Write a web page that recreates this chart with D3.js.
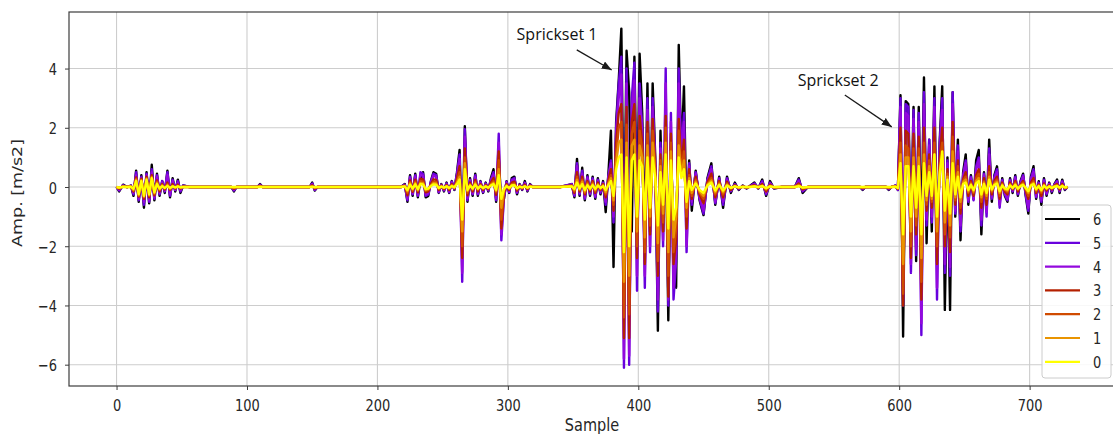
<!DOCTYPE html>
<html><head><meta charset="utf-8">
<script src="https://cdn.jsdelivr.net/npm/d3@7"></script>
<style>
body{margin:0;background:#fff;}
svg{display:block;}
</style></head><body>
<svg id="c" width="1113" height="434"></svg>
<script>
// ---------------- DATA ----------------
const samples = [
0,2,5,8,
11,13,15,17,19,21,23,25,27,29,31,33,35,37,39,41,43,45,47,49,51,
56,70,88,90,92,100,108,110,112,130,148,150,152,154,170,200,218,
221,223,225,227,229,231,233,235,237,239,241,243,245,247,249,251,253,255,257,259,261,263,265,267,269,271,273,275,277,279,281,283,285,287,289,291,293,295,297,299,301,303,305,307,309,311,313,315,317,319,
325,340,
349,351,353,355,357,359,361,363,365,367,369,371,373,375,377,379,381,383,385,387,389,391,393,395,397,399,401,403,405,407,409,411,413,415,417,419,421,423,425,427,429,431,433,435,437,439,441,
444,447,450,453,456,459,462,465,468,471,474,477,480,483,486,489,492,495,498,501,504,
510,520,523,526,530,545,560,570,572,574,590,592,594,
597,599,601,603,605,607,609,611,613,615,617,619,621,623,625,627,629,631,633,635,637,639,641,643,645,647,649,651,653,655,657,659,661,663,665,667,669,671,673,675,677,679,681,683,685,687,689,691,693,695,697,699,701,703,705,707,709,711,713,715,717,719,721,723,725,727,
729];

const series6 = [
0,-0.15,0.08,0,
0.05,-0.3,0.55,-0.5,0.4,-0.7,0.5,-0.55,0.75,-0.45,0.45,-0.3,0.2,-0.2,0.55,-0.35,0.3,-0.15,0.25,-0.2,0.05,
0,0,0,-0.15,0,0,0,0.1,0,0,0,0.15,-0.12,0,0,0,0,
0.1,-0.5,0.4,-0.3,0.45,-0.35,0.25,0.5,-0.35,-0.3,0.2,0.5,0.45,-0.2,0.1,-0.15,0.15,-0.2,0.2,-0.1,0.5,1.25,-2.0,2.05,-0.5,0.3,-0.3,0.45,-0.3,0.2,-0.2,0.15,-0.15,0.3,0.6,-0.5,1.0,-0.6,-0.4,0.2,-0.2,0.3,0.35,-0.25,0.1,-0.1,0.2,-0.15,0.1,0,
0,0,
0.1,-0.35,0.95,-0.3,0.65,-0.45,0.4,-0.3,0.35,-0.4,0.3,-0.25,0.2,-0.85,0.4,1.9,-2.7,2.2,3.6,5.35,-2.0,4.6,3.2,-1.5,4.4,-1.0,4.5,2.5,-2.0,3.5,-1.5,3.5,1.0,-4.85,1.9,-1.5,2.0,-4.5,1.5,-2.0,-3.4,4.8,1.0,3.4,-1.2,0.9,-0.8,
0.55,-0.45,-0.95,0.3,0.8,-0.6,0.35,-0.7,0.35,-0.2,0.15,-0.1,0.05,-0.05,0.05,0.15,-0.05,0.25,-0.3,0.2,-0.05,
0,0,0.3,-0.2,0,0,0,0,-0.1,0,0,-0.1,0,
0.05,-0.1,3.1,-5.05,2.9,2.8,-1.5,2.7,-2.5,2.7,-1.9,3.7,-1.9,1.6,-1.5,3.4,-2.5,1.5,3.4,-4.15,1.0,-4.15,3.2,-1.0,1.6,-1.8,0.5,1.1,-0.6,0.4,-0.4,0.9,1.25,-1.6,0.5,-0.8,1.6,-0.5,0.4,0.7,-0.5,0.3,-0.3,-0.5,0.3,-0.2,0.4,-0.3,0.2,0.45,-0.3,-0.9,0.35,0.7,-0.4,0.2,-0.6,0.3,-0.3,0.15,-0.2,0.1,0.25,-0.2,0.25,-0.1,
0];

const series5 = [
0,-0.12,0.06,0,
0.05,-0.25,0.5,-0.45,0.35,-0.6,0.45,-0.5,0.6,-0.4,0.4,-0.25,0.2,-0.15,0.5,-0.3,0.25,-0.1,0.2,-0.15,0.05,
0,0,0,-0.12,0,0,0,0.08,0,0,0,0.12,-0.1,0,0,0,0,
0.08,-0.45,0.35,-0.25,0.4,-0.3,0.5,0.45,-0.3,-0.25,0.18,0.45,0.4,-0.18,0.08,-0.12,0.12,-0.18,0.18,-0.08,0.45,1.1,-3.2,1.95,-0.45,0.25,-0.25,0.4,-0.25,0.18,-0.18,0.12,-0.12,0.25,0.5,-0.45,1.8,-1.8,-0.35,0.18,-0.18,0.25,0.3,-0.2,0.08,-0.08,0.15,-0.12,0.08,0,
0,0,
0.1,-0.3,0.8,-0.25,0.55,-0.4,0.35,-0.25,0.3,-0.35,0.25,-0.2,0.15,-0.6,0.35,0.9,-1.2,2.0,3.5,4.4,-6.1,4.0,-6.0,3.0,4.2,-3.5,3.5,2.0,-3.4,3.0,-2.2,3.0,0.8,-4.2,1.5,-2.0,4.0,-4.0,2.5,-3.8,-2.5,4.0,1.0,2.5,-2.2,0.8,-0.6,
0.5,-0.4,-0.9,0.25,0.7,-0.55,0.3,-0.6,0.3,-0.15,0.1,-0.08,0.04,-0.04,0.04,0.12,-0.04,0.2,-0.25,0.15,-0.04,
0,0,0.25,-0.15,0,0,0,0,-0.08,0,0,-0.08,0,
0.05,-0.1,3.0,-4.0,2.8,2.7,-2.9,2.6,-2.3,2.5,-5.0,3.2,-1.3,1.6,-1.2,3.0,-3.8,1.4,3.0,-2.9,0.9,-3.0,3.2,-0.9,1.4,-1.5,0.4,0.9,-0.5,0.35,-0.45,0.7,1.0,-1.3,0.45,-1.0,1.3,-0.4,0.35,0.6,-0.7,0.25,-0.25,-0.45,0.25,-0.15,0.35,-0.25,0.15,0.4,-0.25,-0.8,0.3,0.6,-0.35,0.15,-0.5,0.25,-0.25,0.12,-0.15,0.08,0.2,-0.15,0.2,-0.08,
0];

const series4 = [
0,-0.1,0.05,0,
0.03,-0.2,0.4,-0.4,0.3,-0.5,0.4,-0.45,0.5,-0.35,0.35,-0.2,0.15,-0.12,0.4,-0.25,0.2,-0.1,0.15,-0.1,0.03,
0,0,0,-0.1,0,0,0,0.06,0,0,0,0.1,-0.08,0,0,0,0,
0.07,-0.4,0.3,-0.22,0.35,-0.26,0.42,0.38,-0.26,-0.22,0.15,0.38,0.34,-0.15,0.07,-0.1,0.1,-0.15,0.15,-0.07,0.38,0.95,-2.9,1.7,-0.38,0.22,-0.22,0.34,-0.22,0.15,-0.15,0.1,-0.1,0.22,0.42,-0.38,1.5,-1.6,-0.3,0.15,-0.15,0.22,0.26,-0.17,0.07,-0.07,0.13,-0.1,0.07,0,
0,0,
0.08,-0.25,0.7,-0.2,0.45,-0.35,0.3,-0.2,0.25,-0.3,0.2,-0.15,0.12,-0.5,0.3,0.8,-1.0,1.8,3.0,3.8,-5.8,3.5,-5.7,2.6,3.6,-3.0,3.0,1.8,-3.0,2.6,-2.0,2.7,0.7,-3.8,1.3,-1.8,3.5,-3.8,2.2,-3.4,-2.2,3.5,0.9,2.2,-2.0,0.7,-0.5,
0.45,-0.35,-0.8,0.2,0.6,-0.5,0.25,-0.5,0.25,-0.12,0.08,-0.06,0.03,-0.03,0.03,0.1,-0.03,0.15,-0.2,0.12,-0.03,
0,0,0.2,-0.12,0,0,0,0,-0.06,0,0,-0.06,0,
0.04,-0.08,2.7,-3.8,2.5,2.4,-2.6,2.3,-2.1,2.2,-4.6,2.8,-1.1,1.4,-1.0,2.7,-3.4,1.2,2.6,-2.6,0.8,-2.7,2.8,-0.8,1.2,-1.3,0.35,0.8,-0.45,0.3,-0.4,0.6,0.9,-1.1,0.4,-0.85,1.1,-0.35,0.3,0.5,-0.6,0.2,-0.2,-0.4,0.2,-0.12,0.3,-0.2,0.12,0.35,-0.2,-0.7,0.25,0.5,-0.3,0.12,-0.45,0.2,-0.2,0.1,-0.12,0.06,0.17,-0.12,0.17,-0.06,
0];

const series3 = [
0,-0.06,0.03,0,
0.02,-0.15,0.32,-0.32,0.28,-0.4,0.35,-0.35,0.4,-0.28,0.22,-0.15,0.1,-0.08,0.15,-0.1,0.1,-0.05,0.08,-0.05,0.02,
0,0,0,-0.06,0,0,0,0.04,0,0,0,0.06,-0.05,0,0,0,0,
0.05,-0.28,0.22,-0.16,0.25,-0.18,0.28,0.26,-0.18,-0.15,0.1,0.26,0.24,-0.1,0.05,-0.07,0.07,-0.1,0.1,-0.05,0.28,0.7,-2.4,1.3,-0.28,0.15,-0.15,0.24,-0.15,0.1,-0.1,0.07,-0.07,0.15,0.3,-0.26,1.2,-1.4,-0.2,0.1,-0.1,0.15,0.18,-0.12,0.05,-0.05,0.08,-0.07,0.05,0,
0,0,
0.05,-0.2,0.5,-0.15,0.35,-0.25,0.2,-0.15,0.2,-0.2,0.15,-0.1,0.1,-0.35,0.2,0.6,-0.8,1.5,2.5,2.8,-5.1,2.7,-5.1,2.2,2.8,-2.4,2.4,1.5,-2.6,2.2,-1.6,2.3,0.6,-3.0,1.1,-1.5,2.4,-3.7,1.8,-2.6,-1.8,2.3,0.7,1.6,-1.4,0.6,-0.4,
0.35,-0.25,-0.55,0.15,0.45,-0.35,0.2,-0.35,0.18,-0.1,0.06,-0.04,0.02,-0.02,0.02,0.06,-0.02,0.1,-0.15,0.08,-0.02,
0,0,0.12,-0.08,0,0,0,0,-0.04,0,0,-0.04,0,
0.03,-0.06,2.0,-4.0,1.9,1.8,-2.4,1.8,-1.6,1.7,-3.8,2.0,-0.8,1.1,-0.7,2.0,-2.6,0.9,2.0,-2.0,0.6,-2.2,2.2,-0.6,0.9,-0.9,0.25,0.5,-0.3,0.2,-0.3,0.4,0.6,-0.7,0.3,-0.6,0.7,-0.25,0.2,0.35,-0.4,0.15,-0.15,-0.25,0.15,-0.08,0.2,-0.15,0.08,0.2,-0.12,-0.4,0.15,0.3,-0.2,0.08,-0.3,0.12,-0.12,0.06,-0.08,0.04,0.1,-0.08,0.1,-0.04,
0];

const series2 = [
0,-0.04,0.02,0,
0.02,-0.12,0.28,-0.3,0.25,-0.35,0.3,-0.3,0.35,-0.24,0.18,-0.1,0.08,-0.05,0.1,-0.08,0.05,-0.03,0.05,-0.03,0.01,
0,0,0,-0.04,0,0,0,0.03,0,0,0,0.04,-0.03,0,0,0,0,
0.04,-0.2,0.16,-0.12,0.18,-0.13,0.2,0.18,-0.13,-0.1,0.07,0.18,0.17,-0.07,0.03,-0.05,0.05,-0.07,0.07,-0.03,0.2,0.5,-2.0,1.0,-0.2,0.1,-0.1,0.17,-0.1,0.07,-0.07,0.05,-0.05,0.1,0.2,-0.18,0.9,-1.1,-0.14,0.07,-0.07,0.1,0.12,-0.08,0.03,-0.03,0.05,-0.05,0.03,0,
0,0,
0.04,-0.15,0.35,-0.1,0.25,-0.2,0.15,-0.1,0.15,-0.15,0.1,-0.08,0.08,-0.25,0.15,0.4,-0.6,1.1,2.0,2.2,-4.4,2.1,-4.3,1.8,2.2,-2.0,1.9,1.2,-2.2,1.8,-1.3,1.9,0.5,-2.5,0.9,-1.2,2.0,-3.0,1.5,-2.2,-1.4,1.9,0.5,1.2,-1.0,0.4,-0.3,
0.25,-0.2,-0.4,0.1,0.3,-0.25,0.15,-0.25,0.12,-0.06,0.04,-0.03,0.01,-0.01,0.01,0.04,-0.01,0.06,-0.1,0.05,-0.01,
0,0,0.08,-0.05,0,0,0,0,-0.02,0,0,-0.02,0,
0.02,-0.05,1.5,-3.6,1.4,1.3,-2.0,1.3,-1.3,1.3,-3.2,1.5,-0.6,0.9,-0.5,1.5,-2.0,0.7,1.5,-1.6,0.45,-1.7,1.7,-0.45,0.7,-0.7,0.2,0.35,-0.2,0.15,-0.2,0.3,0.45,-0.5,0.2,-0.4,0.5,-0.18,0.15,0.25,-0.3,0.1,-0.1,-0.18,0.1,-0.06,0.15,-0.1,0.06,0.15,-0.08,-0.3,0.1,0.2,-0.15,0.06,-0.2,0.08,-0.08,0.04,-0.06,0.03,0.07,-0.05,0.07,-0.03,
0];

const series1 = [
0,-0.03,0.01,0,
0.01,-0.1,0.24,-0.27,0.22,-0.32,0.27,-0.27,0.32,-0.2,0.14,-0.08,0.05,-0.04,0.06,-0.05,0.03,-0.02,0.03,-0.02,0,
0,0,0,-0.02,0,0,0,0.02,0,0,0,0.02,-0.02,0,0,0,0,
0.03,-0.14,0.12,-0.08,0.13,-0.1,0.14,0.13,-0.1,-0.07,0.05,0.13,0.12,-0.05,0.02,-0.03,0.03,-0.05,0.05,-0.02,0.15,0.35,-1.5,0.8,-0.14,0.07,-0.07,0.12,-0.07,0.05,-0.05,0.03,-0.03,0.07,0.14,-0.13,0.6,-0.7,-0.1,0.05,-0.05,0.07,0.08,-0.05,0.02,-0.02,0.03,-0.03,0.02,0,
0,0,
0.03,-0.1,0.25,-0.08,0.18,-0.15,0.1,-0.08,0.1,-0.1,0.08,-0.05,0.05,-0.18,0.1,0.3,-0.45,0.8,1.5,1.6,-3.2,1.5,-3.0,1.4,1.6,-1.5,1.4,1.0,-1.7,1.4,-1.0,1.5,0.4,-1.9,0.7,-0.9,1.5,-2.2,1.2,-1.7,-1.0,1.4,0.4,0.9,-0.7,0.3,-0.2,
0.18,-0.15,-0.3,0.08,0.22,-0.18,0.1,-0.18,0.08,-0.04,0.03,-0.02,0.01,-0.01,0.01,0.03,-0.01,0.04,-0.06,0.03,-0.01,
0,0,0.05,-0.03,0,0,0,0,-0.01,0,0,-0.01,0,
0.02,-0.04,1.1,-2.6,1.0,1.0,-1.5,1.0,-1.0,1.0,-2.4,1.1,-0.45,0.7,-0.4,1.1,-1.5,0.5,1.1,-1.2,0.35,-1.3,1.2,-0.35,0.5,-0.5,0.15,0.25,-0.15,0.1,-0.15,0.2,0.3,-0.35,0.15,-0.3,0.35,-0.12,0.1,0.18,-0.2,0.08,-0.08,-0.12,0.08,-0.04,0.1,-0.07,0.04,0.1,-0.05,-0.2,0.07,0.14,-0.1,0.04,-0.14,0.06,-0.06,0.03,-0.04,0.02,0.05,-0.03,0.05,-0.02,
0];

const series0 = [
0,-0.02,0.01,0,
0.01,-0.06,0.2,-0.24,0.2,-0.3,0.25,-0.25,0.3,-0.18,0.1,-0.05,0.03,-0.03,0.04,-0.03,0.02,-0.01,0.02,-0.01,0,
0,0,0,0,0,0,0,0,0,0,0,0,0,0,0,0,0,
0.02,-0.1,0.08,-0.05,0.09,-0.07,0.1,0.09,-0.07,-0.05,0.03,0.09,0.08,-0.03,0.01,-0.02,0.02,-0.03,0.03,-0.01,0.1,0.25,-1.1,0.6,-0.1,0.05,-0.05,0.08,-0.05,0.03,-0.03,0.02,-0.02,0.05,0.1,-0.09,0.4,-0.4,-0.07,0.03,-0.03,0.05,0.06,-0.04,0.01,-0.01,0.02,-0.02,0.01,0,
0,0,
0.02,-0.06,0.15,-0.05,0.1,-0.1,0.06,-0.05,0.06,-0.06,0.05,-0.03,0.03,-0.1,0.06,0.2,-0.3,0.6,1.0,1.1,-2.2,1.0,-2.0,0.9,1.1,-1.0,0.9,0.7,-1.1,1.0,-0.7,1.0,0.3,-1.3,0.5,-0.6,1.1,-1.4,0.9,-1.1,-0.7,1.0,0.3,0.6,-0.5,0.2,-0.1,
0.12,-0.1,-0.2,0.05,0.15,-0.12,0.07,-0.12,0.05,-0.03,0.02,-0.01,0,0,0,0.02,0,0.03,-0.04,0.02,0,
0,0,0.03,-0.02,0,0,0,0,0,0,0,0,0,
0.01,-0.03,0.8,-1.6,0.7,0.7,-1.0,0.7,-0.7,0.7,-1.6,0.8,-0.3,0.5,-0.3,1.1,-1.0,0.4,1.2,-0.8,0.25,-0.9,0.8,-0.25,0.35,-0.35,0.1,0.15,-0.1,0.07,-0.1,0.12,0.2,-0.25,0.1,-0.2,0.25,-0.08,0.07,0.12,-0.14,0.05,-0.05,-0.08,0.05,-0.03,0.07,-0.05,0.03,0.07,-0.03,-0.14,0.05,0.1,-0.07,0.03,-0.1,0.04,-0.04,0.02,-0.03,0.01,0.03,-0.02,0.03,-0.01,
0];

const seriesNames = ["6","5","4","3","2","1","0"];
const seriesColors = ["#000000","#6801dd","#9309dd","#b42000","#d04b00","#e99400","#ffff00"];
const xTicks = [0,100,200,300,400,500,600,700];
const yTicks = [-6,-4,-2,0,2,4];
const xDomain = [-36.45,765.45];
const yDomain = [-6.72,5.91];
const xLabel = "Sample";
const yLabel = "Amp. [m/s2]";
const annotations = [
  {label:"Sprickset 1", tx:306.7, ty:4.97, fromX:352.8, fromY:4.63, toX:379.6, toY:3.95},
  {label:"Sprickset 2", tx:522.2, ty:3.41, fromX:558.3, fromY:3.11, toX:594.3, toY:2.03}
];

// ---------------- DRAW ----------------
const series = [series6,series5,series4,series3,series2,series1,series0];
series.forEach((s,i)=>{ if(s.length!==samples.length) throw new Error("series "+seriesNames[i]+" length "+s.length+" vs "+samples.length); });

const P = {l:69, t:12, r:1115, b:386};
const SY = 1.25;
const x = d3.scaleLinear().domain(xDomain).range([P.l, P.r]);
const y = d3.scaleLinear().domain(yDomain).range([P.b, P.t]);
const svg = d3.select("#c");

svg.append("rect").attr("width",1113).attr("height",434).attr("fill","#fff");

const grid = svg.append("g").attr("stroke","#cdcdcd").attr("stroke-width",1.1);
grid.selectAll("line.gx").data(xTicks).join("line").attr("class","gx")
  .attr("x1",d=>x(d)).attr("x2",d=>x(d)).attr("y1",P.t).attr("y2",P.b);
grid.selectAll("line.gy").data(yTicks).join("line").attr("class","gy")
  .attr("x1",P.l).attr("x2",P.r).attr("y1",d=>y(d)).attr("y2",d=>y(d));

svg.append("defs").append("clipPath").attr("id","clip").append("rect")
  .attr("x",P.l).attr("y",P.t).attr("width",P.r-P.l).attr("height",P.b-P.t);

const line = d3.line().x((d,i)=>x(samples[i])).y(d=>y(d));
svg.append("g").attr("clip-path","url(#clip)")
  .selectAll("path").data(series).join("path")
  .attr("d",line).attr("fill","none")
  .attr("stroke",(d,i)=>seriesColors[i]).attr("stroke-width",2.4)
  .attr("stroke-linejoin","round").attr("stroke-linecap","butt");

svg.append("rect").attr("x",P.l).attr("y",P.t).attr("width",P.r-P.l).attr("height",P.b-P.t)
  .attr("fill","none").attr("stroke","#3c3c3c").attr("stroke-width",1.2);

const xa = svg.append("g").attr("transform",`translate(0,${P.b})`)
  .call(d3.axisBottom(x).tickValues(xTicks).tickSize(4).tickFormat(d3.format("d")));
xa.select(".domain").remove();
xa.selectAll(".tick line").attr("stroke","#3c3c3c").attr("stroke-width",1);
xa.selectAll(".tick text").attr("y",0).attr("dy",0)
  .attr("transform",`translate(0,25) scale(1,${SY})`)
  .attr("font-size",13).attr("font-family","DejaVu Sans").attr("fill","#262626");

const ya = svg.append("g").attr("transform",`translate(${P.l},0)`)
  .call(d3.axisLeft(y).tickValues(yTicks).tickSize(4).tickFormat(d3.format("d")));
ya.select(".domain").remove();
ya.selectAll(".tick line").attr("stroke","#3c3c3c").attr("stroke-width",1);
ya.selectAll(".tick text").attr("x",0).attr("dy",0)
  .attr("transform",`translate(-12,6) scale(1,${SY})`)
  .attr("font-size",13).attr("font-family","DejaVu Sans").attr("fill","#262626");

svg.append("text").text(xLabel)
  .attr("transform",`translate(${(P.l+P.r)/2},431) scale(1,${SY})`)
  .attr("text-anchor","middle").attr("font-size",14.5).attr("font-family","DejaVu Sans").attr("fill","#262626");
svg.append("text").text(yLabel)
  .attr("transform",`translate(22,${y(-0.2)}) rotate(-90) scale(${SY},1)`)
  .attr("text-anchor","middle").attr("font-size",14).attr("font-family","DejaVu Sans").attr("fill","#262626");

const lg = svg.append("g").attr("transform","translate(1042,205)");
lg.append("rect").attr("x",0).attr("y",0).attr("width",69).attr("height",173).attr("rx",3)
  .attr("fill","#fff").attr("fill-opacity",0.85).attr("stroke","#cccccc").attr("stroke-width",1);
seriesNames.forEach((n,i)=>{
  const yy = 14 + i*23.8;
  lg.append("line").attr("x1",3).attr("x2",38).attr("y1",yy).attr("y2",yy)
    .attr("stroke",seriesColors[i]).attr("stroke-width",2.2);
  lg.append("text").text(n).attr("transform",`translate(51,${yy+6}) scale(1,${SY})`)
    .attr("font-size",13).attr("font-family","DejaVu Sans").attr("fill","#262626");
});

svg.select("defs").append("marker").attr("id","ah").attr("markerUnits","userSpaceOnUse")
  .attr("markerWidth",11).attr("markerHeight",8).attr("refX",10).attr("refY",4).attr("orient","auto")
  .append("path").attr("d","M0,0 L10,4 L0,8 Z").attr("fill","#1a1a1a");
annotations.forEach(a=>{
  svg.append("line").attr("x1",x(a.fromX)).attr("y1",y(a.fromY)).attr("x2",x(a.toX)).attr("y2",y(a.toY))
    .attr("stroke","#1a1a1a").attr("stroke-width",1.3).attr("marker-end","url(#ah)");
  svg.append("text").text(a.label).attr("x",x(a.tx)).attr("y",y(a.ty))
    .attr("font-size",16).attr("font-family","Open Sans").attr("fill","#111");
});
</script>
</body></html>
